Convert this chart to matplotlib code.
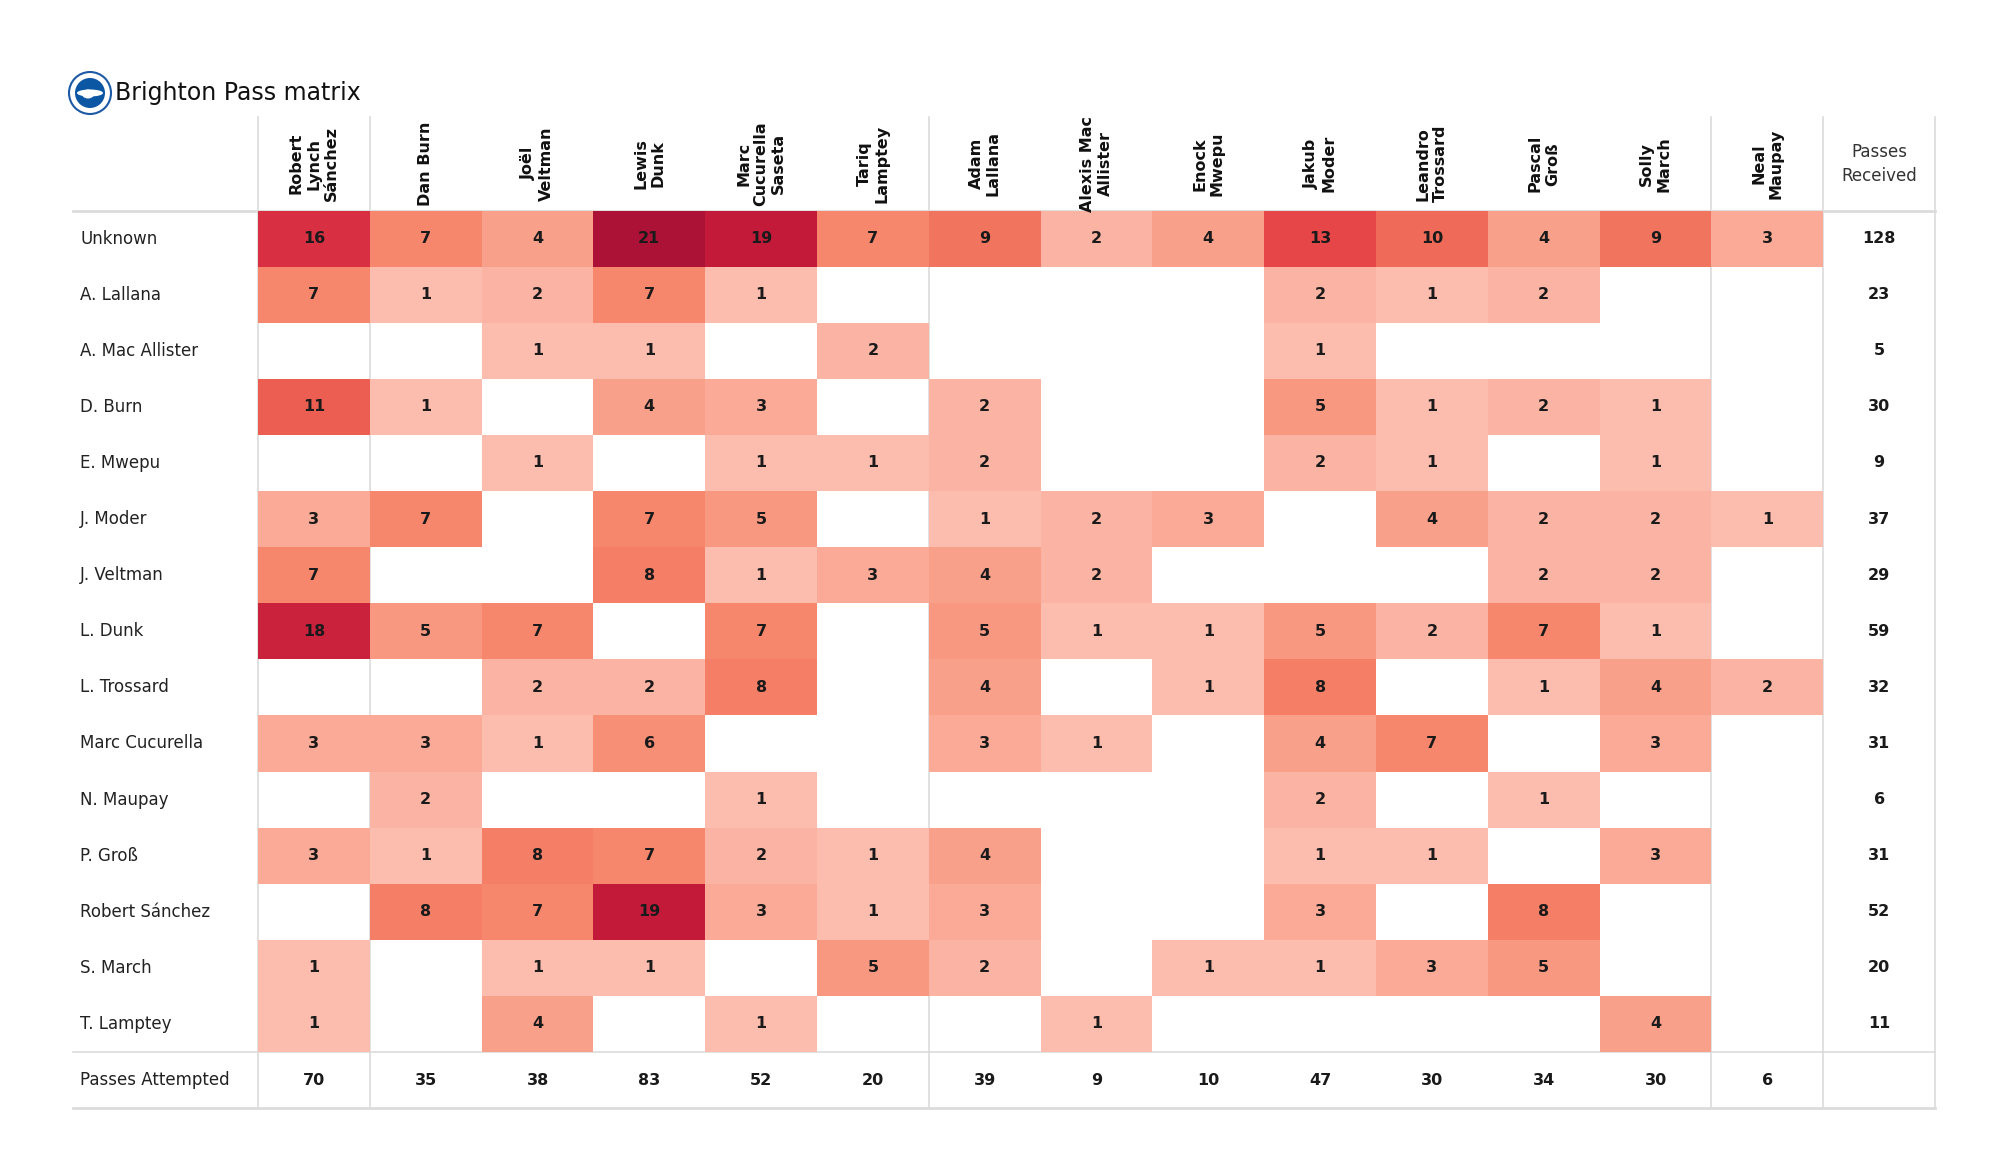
import numpy as np
import matplotlib
matplotlib.use("Agg")
import matplotlib.pyplot as plt
import matplotlib.colors as colors
from matplotlib.patches import Circle, Ellipse

# passer (rows) -> receiver (columns), 0 = no pass
passers = ["Unknown", "A. Lallana", "A. Mac Allister", "D. Burn", "E. Mwepu",
           "J. Moder", "J. Veltman", "L. Dunk", "L. Trossard", "Marc Cucurella",
           "N. Maupay", "P. Groß", "Robert Sánchez", "S. March", "T. Lamptey"]

receivers = ["Robert\nLynch\nSánchez", "Dan Burn", "Joël\nVeltman", "Lewis\nDunk",
             "Marc\nCucurella\nSaseta", "Tariq\nLamptey", "Adam\nLallana",
             "Alexis Mac\nAllister", "Enock\nMwepu", "Jakub\nModer",
             "Leandro\nTrossard", "Pascal\nGroß", "Solly\nMarch", "Neal\nMaupay"]

unknown        = [16, 7, 4, 21, 19, 7, 9, 2, 4, 13, 10, 4, 9, 3]
lallana        = [7, 1, 2, 7, 1, 0, 0, 0, 0, 2, 1, 2, 0, 0]
mac_allister   = [0, 0, 1, 1, 0, 2, 0, 0, 0, 1, 0, 0, 0, 0]
burn           = [11, 1, 0, 4, 3, 0, 2, 0, 0, 5, 1, 2, 1, 0]
mwepu          = [0, 0, 1, 0, 1, 1, 2, 0, 0, 2, 1, 0, 1, 0]
moder          = [3, 7, 0, 7, 5, 0, 1, 2, 3, 0, 4, 2, 2, 1]
veltman        = [7, 0, 0, 8, 1, 3, 4, 2, 0, 0, 0, 2, 2, 0]
dunk           = [18, 5, 7, 0, 7, 0, 5, 1, 1, 5, 2, 7, 1, 0]
trossard       = [0, 0, 2, 2, 8, 0, 4, 0, 1, 8, 0, 1, 4, 2]
cucurella      = [3, 3, 1, 6, 0, 0, 3, 1, 0, 4, 7, 0, 3, 0]
maupay         = [0, 2, 0, 0, 1, 0, 0, 0, 0, 2, 0, 1, 0, 0]
gross          = [3, 1, 8, 7, 2, 1, 4, 0, 0, 1, 1, 0, 3, 0]
sanchez        = [0, 8, 7, 19, 3, 1, 3, 0, 0, 3, 0, 8, 0, 0]
march          = [1, 0, 1, 1, 0, 5, 2, 0, 1, 1, 3, 5, 0, 0]
lamptey        = [1, 0, 4, 0, 1, 0, 0, 1, 0, 0, 0, 0, 4, 0]

m = np.array([unknown, lallana, mac_allister, burn, mwepu, moder, veltman, dunk,
              trossard, cucurella, maupay, gross, sanchez, march, lamptey])
passes_received = m.sum(axis=1)
passes_attempted = m.sum(axis=0)

nrows, ncols = m.shape

# layout in pixels (figure is 2000 x 1175)
W, H = 2000, 1175
left_x = 73
x0 = 258.0
cw = 111.8
head_top = 117
y0 = 210.5
rh = 56.1
right_x = x0 + (ncols + 1) * cw

# salmon -> red -> crimson
cmap = colors.LinearSegmentedColormap.from_list("brt", [
    (0.0, "#fcbcae"), (0.15, "#f9a08b"), (0.3, "#f6876d"), (0.45, "#ef6a58"),
    (0.6, "#e64648"), (0.75, "#d82f42"), (0.9, "#c31a3a"), (1.0, "#ab1236")])
norm = colors.Normalize(vmin=1, vmax=21)

fig = plt.figure(figsize=(20, 11.75), dpi=100)
ax = fig.add_axes([0, 0, 1, 1])
ax.set_xlim(0, W)
ax.set_ylim(H, 0)
ax.axis("off")

gc = "#dcdcdc"
# vertical grid lines (only some survive in the original)
for k in [0, 1, 6, 13, 14, 15]:
    ax.plot([x0 + k * cw] * 2, [head_top, y0 + (nrows + 1) * rh], color=gc, lw=1.2, zorder=1)
# horizontal lines
ax.plot([left_x, right_x], [y0, y0], color=gc, lw=2, zorder=1)
ax.plot([left_x, right_x], [y0 + nrows * rh] * 2, color=gc, lw=1.2, zorder=1)
ax.plot([left_x, right_x], [y0 + (nrows + 1) * rh] * 2, color=gc, lw=2, zorder=1)

xe = x0 + cw * np.arange(ncols + 1)
ye = y0 + rh * np.arange(nrows + 1)
ax.pcolormesh(xe, ye, np.ma.masked_equal(m, 0), cmap=cmap, norm=norm, zorder=2)

xc = x0 + cw * (np.arange(ncols) + 0.5)
yc = y0 + rh * (np.arange(nrows) + 0.5)

for i in range(nrows):
    ax.text(80, yc[i], passers[i], ha="left", va="center", fontsize=12, color="#222222", zorder=3)
    for j in range(ncols):
        if m[i, j] > 0:
            ax.text(xc[j], yc[i], str(m[i, j]), ha="center", va="center", fontsize=11.5,
                    fontweight="bold", color="#1a1a1a", zorder=3)
    ax.text(x0 + cw * (ncols + 0.5), yc[i], str(passes_received[i]), ha="center", va="center",
            fontsize=11.5, fontweight="bold", color="#1a1a1a", zorder=3)

y_last = y0 + rh * (nrows + 0.5)
ax.text(80, y_last, "Passes Attempted", ha="left", va="center", fontsize=12, color="#222222")
for j in range(ncols):
    ax.text(xc[j], y_last, str(passes_attempted[j]), ha="center", va="center", fontsize=11.5,
            fontweight="bold", color="#1a1a1a")

head_y = (head_top + y0) / 2
for j in range(ncols):
    ax.text(xc[j], head_y, receivers[j], rotation=90, ha="center", va="center",
            multialignment="center", fontsize=11.5, fontweight="bold", color="#111111",
            linespacing=1.2)
ax.text(x0 + cw * (ncols + 0.5), head_y, "Passes\nReceived", ha="center", va="center",
        multialignment="center", fontsize=12, color="#333333", linespacing=1.4)

# title and a simple badge
ax.text(115, 93, "Brighton Pass matrix", ha="left", va="center", fontsize=17, color="#111111")
bx, by = 90, 93
ax.add_patch(Circle((bx, by), 21, facecolor="white", edgecolor="#1d5aa6", lw=1.5, zorder=4))
ax.add_patch(Circle((bx, by), 15, facecolor="#0b57a4", edgecolor="none", zorder=5))
ax.add_patch(Ellipse((bx, by), 26, 7, facecolor="white", edgecolor="none", zorder=6))
ax.add_patch(Ellipse((bx - 2, by + 1), 12, 9, facecolor="white", edgecolor="none", zorder=6))

fig.savefig("out.png", dpi=100)
